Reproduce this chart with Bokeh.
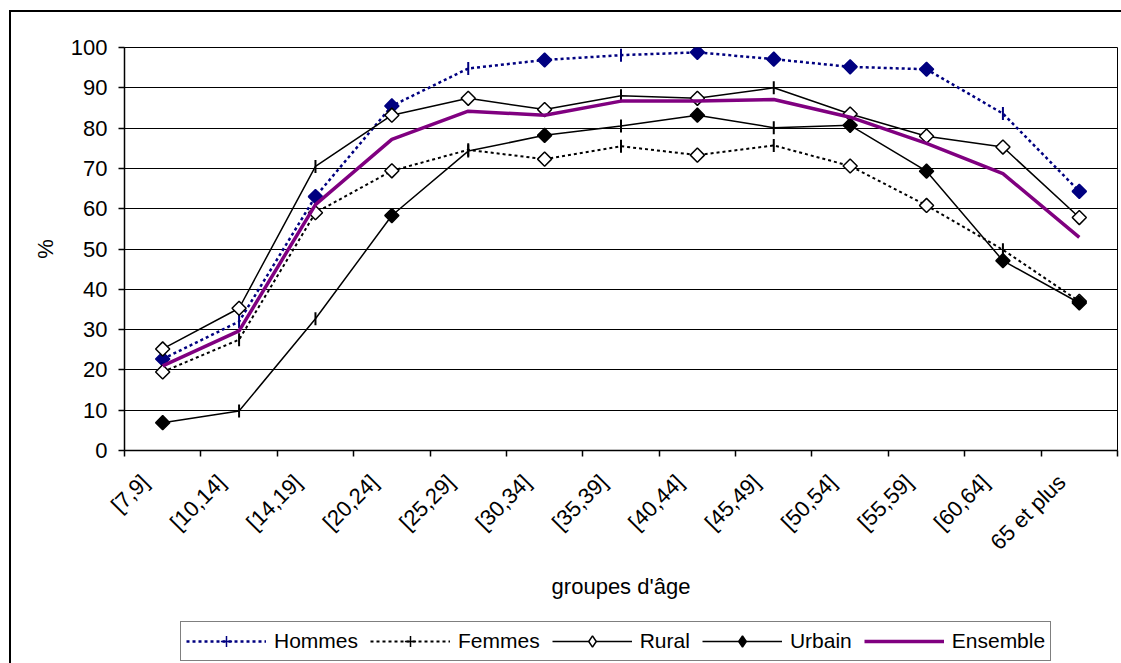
import math
from bokeh.plotting import figure
from bokeh.layouts import column
from bokeh.models import (Range1d, FixedTicker, LinearAxis, Legend,
                          LegendItem, CustomJSTickFormatter, Grid)
from bokeh.embed import file_html
from bokeh.resources import INLINE

# ---------------- data ----------------
categories = ["[7,9]", "[10,14]", "[14,19]", "[20,24]", "[25,29]", "[30,34]", "[35,39]",
              "[40,44]", "[45,49]", "[50,54]", "[55,59]", "[60,64]", "65 et plus"]
hommes   = [22.7, 32.0, 63.0, 85.5, 94.8, 96.9, 98.1, 98.8, 97.1, 95.2, 94.6, 83.6, 64.3]
femmes   = [19.5, 27.5, 59.0, 69.4, 74.6, 72.3, 75.5, 73.3, 75.7, 70.6, 60.8, 49.8, 37.0]
rural    = [25.2, 35.3, 70.5, 83.2, 87.4, 84.6, 88.0, 87.4, 90.0, 83.5, 78.0, 75.3, 57.8]
urbain   = [6.9, 9.8, 32.7, 58.3, 74.3, 78.2, 80.5, 83.2, 80.1, 80.7, 69.3, 47.1, 36.6]
ensemble = [21.0, 29.7, 61.0, 77.2, 84.2, 83.2, 86.7, 86.7, 87.1, 82.7, 76.2, 68.7, 52.9]
series_names = ["Hommes", "Femmes", "Rural", "Urbain", "Ensemble"]

# per-point marker style: "d" = diamond, "|" = vertical dash
hommes_mk = list("d|dd|d|dddd|d")
femmes_mk = list("d|dd|d|d|dd|d")
rural_mk  = list("dd|ddd|d|dddd")
urbain_mk = list("d||d|d|d|dddd")

FONT = "Liberation Sans"
n = len(categories)
xs = [i + 0.5 for i in range(n)]

p = figure(width=1110, height=605, x_range=Range1d(0, n), y_range=Range1d(0, 100),
           output_backend="svg", toolbar_location=None,
           x_axis_type=None, y_axis_type=None,
           min_border_left=113, min_border_right=4, min_border_top=35, min_border_bottom=167)
p.outline_line_color = "black"
p.outline_line_width = 1
p.background_fill_color = "white"
p.border_fill_color = "white"

# y axis
yticker = FixedTicker(ticks=list(range(0, 101, 10)))
yaxis = LinearAxis(ticker=yticker, axis_label="%")
yaxis.axis_label_text_font = FONT
yaxis.axis_label_text_font_size = "22px"
yaxis.axis_label_text_font_style = "normal"
yaxis.axis_label_text_color = "black"
yaxis.axis_label_standoff = 10
yaxis.major_label_text_font = FONT
yaxis.major_label_text_font_size = "22px"
yaxis.major_label_text_color = "black"
yaxis.major_label_standoff = 11
yaxis.major_tick_out = 6
yaxis.major_tick_in = 0
yaxis.axis_line_width = 1.5
yaxis.major_tick_line_width = 1.5
p.add_layout(yaxis, "left")
p.add_layout(Grid(dimension=1, ticker=yticker, grid_line_color="black", grid_line_width=1))

# x axis: labels near category centres, small ticks on category boundaries
xticker = FixedTicker(ticks=[i + 0.27 for i in range(n)], minor_ticks=list(range(n + 1)))
xaxis = LinearAxis(ticker=xticker, axis_label="groupes d'âge",
                   formatter=CustomJSTickFormatter(args=dict(labels=categories),
                                                   code="return labels[Math.floor(tick)] || ''"))
xaxis.major_label_orientation = math.pi / 4
xaxis.major_label_text_font = FONT
xaxis.major_label_text_font_size = "22px"
xaxis.major_label_text_color = "black"
xaxis.major_label_standoff = 22
xaxis.major_tick_line_color = None
xaxis.major_tick_out = 0
xaxis.major_tick_in = 0
xaxis.minor_tick_out = 6
xaxis.minor_tick_in = 0
xaxis.minor_tick_line_color = "black"
xaxis.minor_tick_line_width = 1.5
xaxis.axis_line_width = 1.5
xaxis.axis_label_text_font = FONT
xaxis.axis_label_text_font_size = "22px"
xaxis.axis_label_text_font_style = "normal"
xaxis.axis_label_text_color = "black"
xaxis.axis_label_standoff = 7
p.add_layout(xaxis, "below")

navy = "#000080"
styles = [
    # (values, markers, colour, dash, width, diamond fill)
    (hommes, hommes_mk, navy, "3 3", 2.5, navy),
    (femmes, femmes_mk, "black", "3 3", 2, "white"),
    (rural, rural_mk, "black", "solid", 1.5, "white"),
    (urbain, urbain_mk, "black", "solid", 1.5, "black"),
    (ensemble, None, "#800080", "solid", 3.5, None),
]

for vals, marks, color, dash, lw, dfill in styles:
    p.line(xs, vals, line_color=color, line_width=lw, line_dash=dash)
    if marks is not None:
        dx = [xs[i] for i in range(n) if marks[i] == "|"]
        dy = [vals[i] for i in range(n) if marks[i] == "|"]
        qx = [xs[i] for i in range(n) if marks[i] == "d"]
        qy = [vals[i] for i in range(n) if marks[i] == "d"]
        p.scatter(dx, dy, marker="dash", angle=math.pi / 2, size=13,
                  line_color=color, line_width=2)
        p.scatter(qx, qy, marker="square", angle=math.pi / 4, size=10,
                  fill_color=dfill, line_color=color, line_width=1.5)

# ---------------- legend strip (separate figure under the chart) ----------------
lg = figure(width=1110, height=46, x_range=Range1d(0, n), y_range=Range1d(0, 100),
            output_backend="svg", toolbar_location=None,
            x_axis_type=None, y_axis_type=None,
            min_border_left=0, min_border_right=0, min_border_top=0, min_border_bottom=0)
lg.outline_line_color = None
lg.xgrid.visible = False
lg.ygrid.visible = False
lg.background_fill_color = "white"
lg.border_fill_color = "white"

legend_marker = ["cross", "cross", "diamond", "diamond", None]
items = []
for name, (vals, marks, color, dash, lw, dfill), mk in zip(series_names, styles, legend_marker):
    rends = [lg.line(xs, vals, line_color=color, line_width=lw, line_dash=dash, visible=False)]
    if mk == "cross":
        rends.append(lg.scatter(xs, vals, marker="cross", size=13,
                                line_color=color, line_width=1.5, visible=False))
    elif mk == "diamond":
        rends.append(lg.scatter(xs, vals, marker="diamond", size=10,
                                fill_color=dfill, line_color=color, line_width=1.5,
                                visible=False))
    items.append(LegendItem(label=name, renderers=rends))

legend = Legend(items=items, orientation="horizontal", location=(56, 2))
legend.glyph_width = 80
legend.glyph_height = 28
legend.label_standoff = 8
legend.spacing = 12
legend.padding = 5
legend.margin = 0
legend.border_line_color = "black"
legend.border_line_width = 1
legend.background_fill_color = "white"
legend.background_fill_alpha = 1
legend.label_text_font = FONT
legend.label_text_font_size = "21px"
legend.label_text_color = "black"
lg.add_layout(legend, "center")

layout = column(p, lg, spacing=0)
layout.styles = {"margin-left": "9px", "margin-top": "10px",
                 "border-left": "2px solid black", "border-top": "2px solid black"}

open("out.html", "w").write(file_html(layout, INLINE))
